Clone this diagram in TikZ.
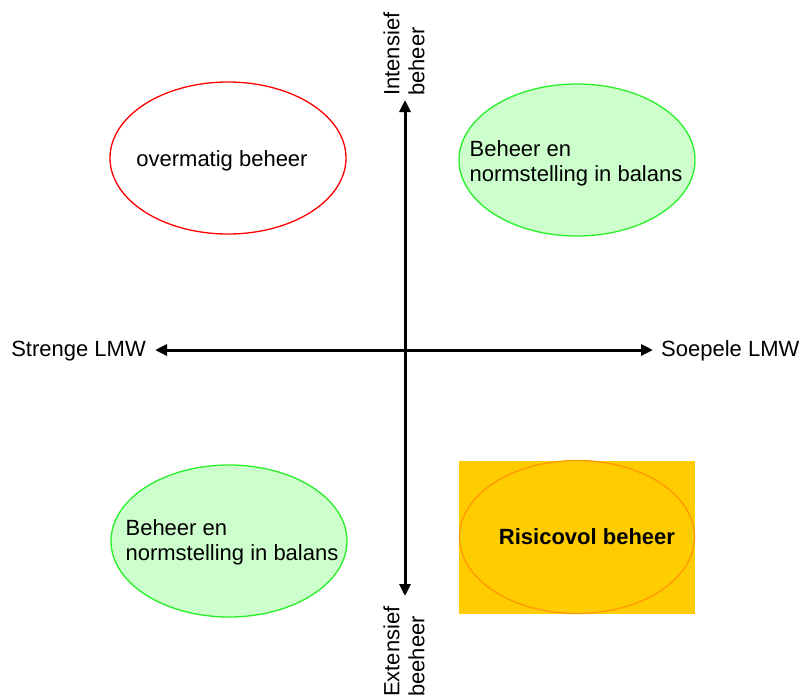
\documentclass[tikz,border=0pt]{standalone}
\usepackage{fontspec}
\setmainfont{Liberation Sans}
\usetikzlibrary{arrows.meta, shapes.geometric}
\definecolor{lichtgroen}{RGB}{204,255,204}
\definecolor{groen}{RGB}{40,240,40}
\definecolor{oranje}{RGB}{255,204,0}
\definecolor{donkeroranje}{RGB}{255,153,0}
\tikzset{
	as/.style={line width=3pt, {Triangle[length=12pt,width=11pt]}-{Triangle[length=12pt,width=11pt]}},
	vak/.style={ellipse, draw, line width=1.3pt, minimum width=236pt, minimum height=152pt, inner sep=0pt},
	tekst/.style={font=\fontsize{22}{25}\selectfont}
}
\begin{document}
\begin{tikzpicture}[x=1pt, y=-1pt, tekst]
		\useasboundingbox (0,0) rectangle (803,697);

		% assen
		\coordinate (boven) at (405,100);
		\coordinate (onder) at (405,596);
		\coordinate (links) at (155,350);
		\coordinate (rechts) at (653,350);
		\draw[as] (boven) -- (onder);
		\draw[as] (links) -- (rechts);

		\node[anchor=east, inner sep=0pt] (streng) at (146,351) {Strenge LMW};
		\node[anchor=west, inner sep=0pt] (soepel) at (661,351) {Soepele LMW};
		\node[rotate=90, anchor=west, align=left, inner sep=0pt] (intensief) at (404,96) {Intensief\\beheer};
		\node[rotate=90, anchor=west, align=left, inner sep=0pt] (extensief) at (404,697) {Extensief\\beeheer};

		% kwadranten
		\node[vak, draw=red] (overmatig) at (228,158) {};
		\node (overmatigtxt) at (222,161) {overmatig beheer};
		\node[vak, draw=groen, fill=lichtgroen] (balansboven) at (577,160) {};
		\node[align=left] (balansboventxt) at (576,163) {Beheer en\\normstelling in balans};
		\node[vak, draw=groen, fill=lichtgroen] (balansonder) at (229,541) {};
		\node[align=left] (balansondertxt) at (232,542) {Beheer en\\normstelling in balans};
		\fill[oranje] (459,461) rectangle (695,614);
		\node[vak, draw=donkeroranje, minimum width=235pt, minimum height=153pt] (risico) at (577,537) {};
		\node[font=\fontsize{22}{25}\selectfont\bfseries] (risicotxt) at (587,537) {Risicovol beheer};
	\end{tikzpicture}
\end{document}
